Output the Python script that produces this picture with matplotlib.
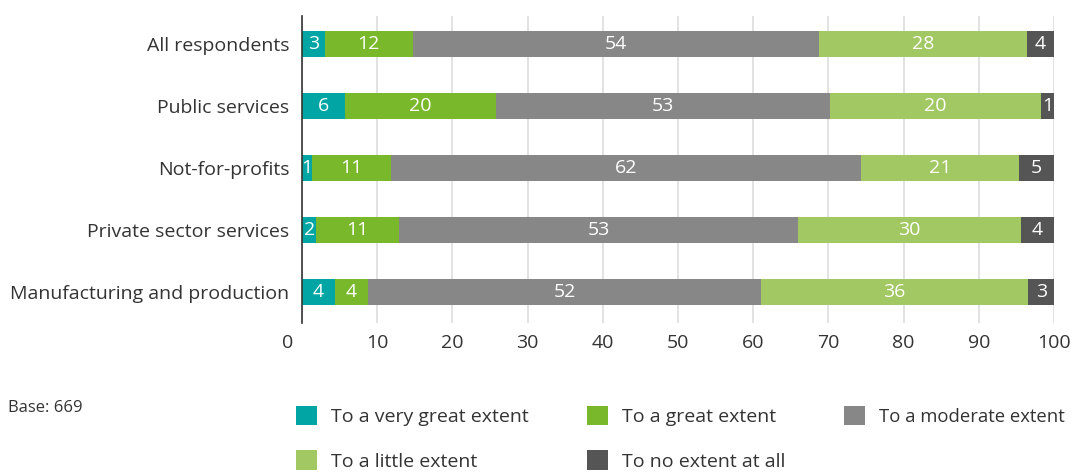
import matplotlib
matplotlib.use("Agg")
import matplotlib.pyplot as plt
import matplotlib.transforms as mtransforms

plt.rcParams['font.family'] = ['Open Sans', 'DejaVu Sans']

# Categories, top to bottom
categories = ["All respondents", "Public services", "Not-for-profits",
              "Private sector services", "Manufacturing and production"]

series_names = ["To a very great extent", "To a great extent",
                "To a moderate extent", "To a little extent",
                "To no extent at all"]

# Segment widths as drawn (%), one list per series
very_great = [3.0, 5.7, 1.3, 1.9, 4.4]
great = [11.7, 20.1, 10.5, 11.0, 4.4]
moderate = [54.0, 44.4, 62.5, 53.1, 52.2]
little = [27.7, 28.1, 21.0, 29.6, 35.6]
no_extent = [3.6, 1.7, 4.7, 4.4, 3.4]

# Labels printed on the segments
very_great_lbl = [3, 6, 1, 2, 4]
great_lbl = [12, 20, 11, 11, 4]
moderate_lbl = [54, 53, 62, 53, 52]
little_lbl = [28, 20, 21, 30, 36]
no_extent_lbl = [4, 1, 5, 4, 3]

colors = ["#00a5a4", "#78b82a", "#878787", "#a1c862", "#555555"]

series = [very_great, great, moderate, little, no_extent]
labels = [very_great_lbl, great_lbl, moderate_lbl, little_lbl, no_extent_lbl]

fig = plt.figure(figsize=(10.74, 4.72), dpi=100)
ax = fig.add_axes([0.2812, 0.316, 0.7002, 0.650])

y = list(range(len(categories)))
left = [0.0] * len(categories)
handles = []
for vals, lbls, name, col in zip(series, labels, series_names, colors):
    bars = ax.barh(y, vals, left=left, height=0.42, color=col, label=name,
                   zorder=3)
    handles.append(bars)
    for yi, l0, v, t in zip(y, left, vals, lbls):
        ax.text(l0 + v / 2, yi, str(t), ha="center", va="center",
                color="white", fontsize=14, zorder=4)
    left = [a + b for a, b in zip(left, vals)]

ax.set_xlim(0, 100)
ax.set_ylim(4.5, -0.45)
ax.set_yticks(y)
ax.set_yticklabels(categories, fontsize=14, color="#333333")
ax.set_xticks(range(0, 101, 10))
ax.tick_params(axis="x", labelsize=14, labelcolor="#333333", length=0, pad=8)
ax.tick_params(axis="y", length=0, pad=9)
ax.xaxis.grid(True, color="#dddddd", linewidth=1.2, zorder=0)
for s in ["top", "right", "bottom"]:
    ax.spines[s].set_visible(False)
ax.spines["left"].set_color("#333333")
ax.spines["left"].set_linewidth(1.2)
ax.spines["left"].set_zorder(5)

# shift "0" tick label slightly left like the original
zero_lbl = ax.get_xticklabels()[0]
zero_lbl.set_transform(zero_lbl.get_transform() +
                       mtransforms.ScaledTranslation(-0.14, 0, fig.dpi_scale_trans))

fig.text(0.0075, 0.135, "Base: 669", fontsize=12, color="#333333",
         ha="left", va="center")

order = [0, 3, 1, 4, 2]
leg = fig.legend([handles[i] for i in order], [series_names[i] for i in order],
                 ncol=3, loc="upper left", bbox_to_anchor=(0.2755, 0.14),
                 frameon=False, fontsize=14, handlelength=1.1,
                 handleheight=1.15, handletextpad=0.7, columnspacing=3.0,
                 labelspacing=1.25, labelcolor="#333333",
                 borderaxespad=0, borderpad=0)
# last column sits close to the right edge, so its label is a bit smaller
leg.get_texts()[4].set_fontsize(13.3)

fig.savefig("out.png", dpi=100)
